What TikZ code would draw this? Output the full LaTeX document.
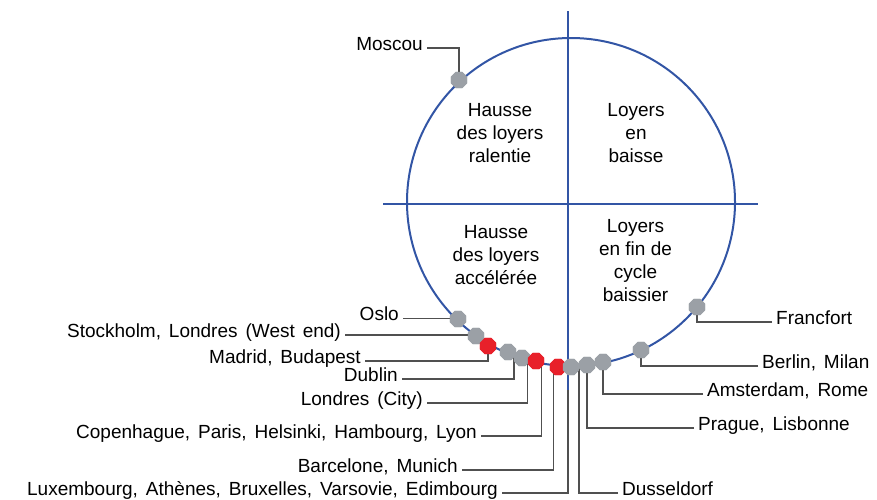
\documentclass[tikz,border=0pt]{standalone}
\usepackage{fontspec}
\setmainfont{Liberation Sans}
\newfontfamily\lblfont{Liberation Sans}[WordSpace=1.5]
\usetikzlibrary{shapes.geometric}
\definecolor{cblue}{RGB}{50,85,165}
\definecolor{cdot}{RGB}{155,160,166}
\definecolor{cred}{RGB}{232,32,42}
\definecolor{cline}{RGB}{80,80,80}
\begin{document}
\begin{tikzpicture}[x=1pt,y=-1pt,
  lbl/.style={inner ysep=0pt, inner xsep=4pt, text height=13.6pt, text depth=9pt, font=\lblfont\fontsize{19}{23}\selectfont},
  lbll/.style={lbl, anchor=east},
  lblr/.style={lbl, anchor=west},
  quad/.style={align=center, inner sep=0pt, font=\fontsize{19}{23.3}\selectfont},
  conn/.style={draw=cline, line width=1.2pt},
  axis/.style={draw=cblue, line width=2pt},
  dotg/.style={regular polygon, regular polygon sides=8, minimum size=17.5pt, inner sep=0pt, fill=cdot, draw=none},
  dotr/.style={dotg, fill=cred}]
\useasboundingbox (0,0) rectangle (877,499);

% labels
\node[lbll] (lMos) at (427,48) {Moscou};
\node[lbll] (lOslo) at (403,318.5) {Oslo};
\node[lbll] (lSto) at (345,335) {Stockholm, Londres (West end)};
\node[lbll] (lMad) at (365,361) {Madrid, Budapest};
\node[lbll] (lDub) at (402,379) {Dublin};
\node[lbll] (lLC) at (427,403) {Londres (City)};
\node[lbll] (lCop) at (481,436) {Copenhague, Paris, Helsinki, Hambourg, Lyon};
\node[lbll] (lBar) at (462,470) {Barcelone, Munich};
\node[lbll] (lLux) at (502,493) {Luxembourg, Athènes, Bruxelles, Varsovie, Edimbourg};
\node[lblr] (lDus) at (618,493) {Dusseldorf};
\node[lblr] (lPra) at (694,428) {Prague, Lisbonne};
\node[lblr] (lAms) at (703,394) {Amsterdam, Rome};
\node[lblr] (lBer) at (758,366) {Berlin, Milan};
\node[lblr] (lFra) at (772,322) {Francfort};

% quadrant texts
\node[quad] (q1) at (500,133) {Hausse\\des loyers\\ralentie};
\node[quad] (q2) at (636,133) {Loyers\\en\\baisse};
\node[quad] (q3) at (496,255) {Hausse\\des loyers\\accélérée};
\node[quad] (q4) at (635.5,260.5) {Loyers\\en fin de\\cycle\\baissier};

% dots (positions)
\node[dotg] (dMos) at (459,80) {};
\node[dotg] (dOslo) at (458,319) {};
\node[dotg] (dSto) at (476,336) {};
\node[dotr] (dMad) at (488,346) {};
\node[dotg] (dDub) at (508,352) {};
\node[dotg] (dLC) at (522,358) {};
\node[dotr] (dCop) at (536,361) {};
\node[dotr] (dBar) at (558,367) {};
\node[dotg] (dLux) at (571,367) {};
\node[dotg] (dPra) at (587,365) {};
\node[dotg] (dAms) at (603,362) {};
\node[dotg] (dBer) at (641,350) {};
\node[dotg] (dFra) at (697,307) {};

% connectors
\draw[conn] (dMos.center) |- (lMos.east);
\draw[conn] (lOslo.east) -- (lOslo.east -| dOslo.center);
\draw[conn] (lSto.east) -- (lSto.east -| dSto.center);
\draw[conn] (lMad.east) -| (dMad.center);
\draw[conn] (lDub.east) -| ([xshift=6pt]dDub.center);
\draw[conn] (lLC.east) -| ([xshift=5.5pt]dLC.center);
\draw[conn] (lCop.east) -| ([xshift=5.7pt]dCop.center);
\draw[conn] (lBar.east) -| ([xshift=-4.7pt]dBar.center);
\draw[conn] (lLux.east) -| ([xshift=-3pt]dLux.center);
\draw[conn] (lDus.west) -| ([xshift=-8pt]dPra.center);
\draw[conn] (lPra.west) -| (dPra.center);
\draw[conn] (lAms.west) -| (dAms.center);
\draw[conn] (lBer.west) -| (dBer.center);
\draw[conn] (lFra.west) -| (dFra.center);

% axes and circle
\coordinate (vt) at (568,11);
\coordinate (vb) at (568,390);
\coordinate (hl) at (383,203.5);
\coordinate (hr) at (758,203.5);
\coordinate (cc) at (571,202);
\draw[axis] (vt) -- (vb);
\draw[axis] (hl) -- (hr);
\draw[axis] (cc) circle[radius=164pt];

% redraw dots on top
\foreach \d/\s in {dMos/dotg,dOslo/dotg,dSto/dotg,dMad/dotr,dDub/dotg,dLC/dotg,dCop/dotr,dBar/dotr,dLux/dotg,dPra/dotg,dAms/dotg,dBer/dotg,dFra/dotg}{
  \node[\s] at (\d.center) {};
}
\end{tikzpicture}
\end{document}
